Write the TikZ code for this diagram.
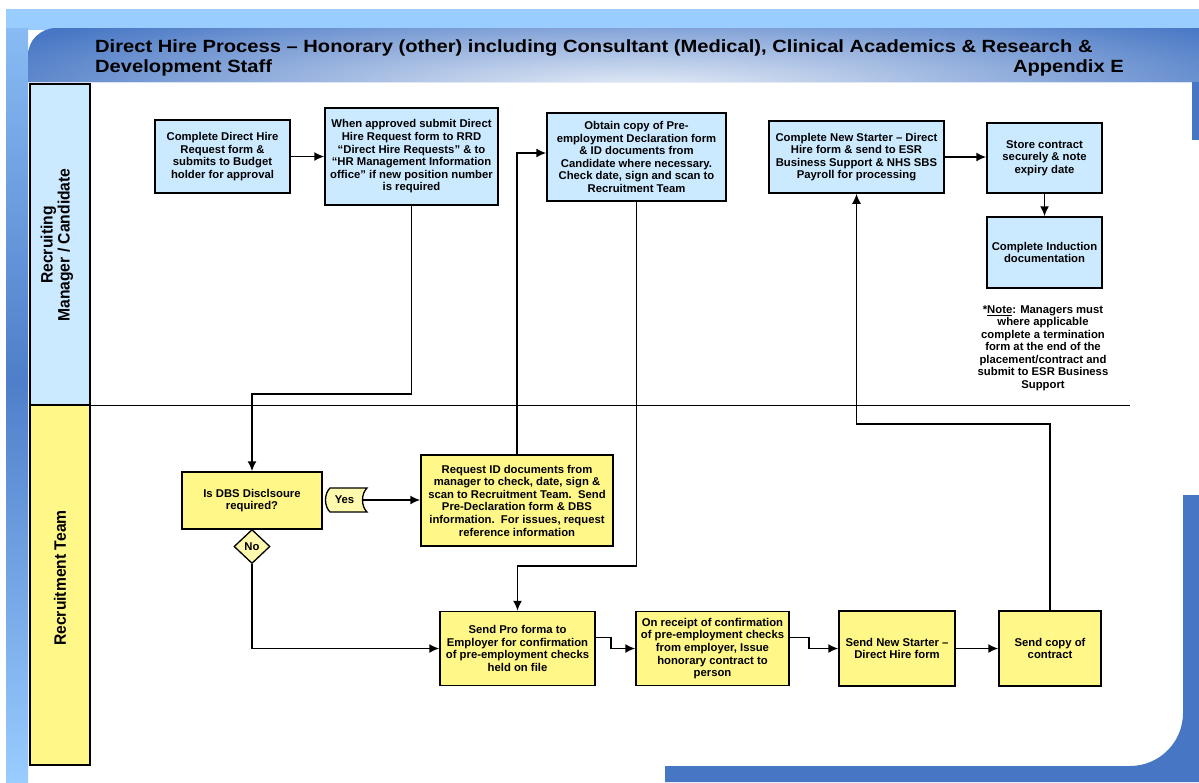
\documentclass[tikz,border=0pt]{standalone}
\usepackage{fontspec}
\setmainfont{Liberation Sans}
\usetikzlibrary{arrows.meta,patterns,shapes.geometric}
\definecolor{boxblue}{RGB}{204,234,255}
\definecolor{boxyellow}{RGB}{255,247,135}
\definecolor{hdrblue}{RGB}{70,118,196}
\definecolor{skyblue}{RGB}{153,204,255}
\begin{document}
\begin{tikzpicture}[x=1pt,y=-1pt,
  procbox/.style={draw=black, line width=1.5pt, align=center, inner sep=0pt,
     font=\bfseries\fontsize{11.3}{12.6}\selectfont},
  bluebox/.style={procbox, fill=boxblue},
  yellowbox/.style={procbox, fill=boxyellow},
  conn/.style={draw=black, line width=1.6pt, -{Latex[length=10pt,width=9pt]}},
  lanelabel/.style={rotate=90, align=center, inner sep=0pt, font=\bfseries\fontsize{16.5}{17}\selectfont},
  titletext/.style={font=\bfseries\fontsize{17}{20}\selectfont, inner sep=0pt},
  hatched/.style={draw=black, line width=1.3pt, preaction={fill=boxyellow}, pattern=north east lines, pattern color=white}
]
\useasboundingbox (0,0) rectangle (1199,782);
% ---------- background ----------
\fill[white] (0,0) rectangle (1199,782);
\fill[skyblue] (6,9) rectangle (1199,30);
\shade[top color=skyblue!80!hdrblue, bottom color=hdrblue!90!skyblue] (6,28) rectangle (28,380);
\shade[top color=hdrblue!90!skyblue, bottom color=skyblue] (6,380) rectangle (28,782);
\fill[hdrblue] (28,82) -- (28,56) arc(180:270:28) -- (1199,28) -- (1199,82) -- cycle;
\begin{scope}
  \clip (28,82) -- (28,56) arc(180:270:28) -- (1199,28) -- (1199,82) -- cycle;
  \shade[inner color=white!88!hdrblue, outer color=hdrblue] (640,90) ellipse (720 and 100);
\end{scope}
\fill[hdrblue] (1192,82) rectangle (1199,140);
\fill[hdrblue] (1183,495) -- (1199,495) -- (1199,782) -- (665,782) -- (665,766) -- (1130,766) arc(90:0:53) -- cycle;
% ---------- title ----------
\node[titletext, anchor=base west] (t1) at (95,52) {\scalebox{1.185}[1.04]{Direct Hire Process – Honorary (other) including Consultant (Medical), Clinical Academics \& Research \&}};
\node[titletext, anchor=base west] (t2) at (95,72) {\scalebox{1.185}[1.04]{Development Staff}};
\node[titletext, anchor=base east] (t3) at (1124,72) {\scalebox{1.185}[1.04]{Appendix E}};
% ---------- lanes ----------
\draw[line width=1.5pt, fill=boxblue] (30,84) rectangle (90,405);
\draw[line width=1.5pt, fill=boxyellow] (30,405) rectangle (90,765);
\draw[line width=1pt] (90,405) -- (1130,405);
\node[lanelabel] (lane1) at (57,245) {\scalebox{0.95}[1]{Recruiting}\\\scalebox{0.95}[1]{Manager / Candidate}};
\node[lanelabel] (lane2) at (60,578) {\scalebox{0.95}[1]{Recruitment Team}};
% ---------- upper lane boxes ----------
\node[bluebox, minimum width=135pt, minimum height=73pt] (b1) at (222.5,156.5) {Complete Direct Hire\\Request form \&\\submits to Budget\\holder for approval};
\node[bluebox, minimum width=173pt, minimum height=97pt] (b2) at (411.5,156.5) {When approved submit Direct\\Hire Request form to RRD\\“Direct Hire Requests” \& to\\“HR Management Information\\office” if new position number\\is required};
\node[bluebox, minimum width=179pt, minimum height=88pt] (b3) at (636.5,157) {Obtain copy of Pre-\\employment Declaration form\\\& ID documents from\\Candidate where necessary.\\Check date, sign and scan to\\Recruitment Team};
\node[bluebox, minimum width=175pt, minimum height=72pt] (b4) at (856.5,157) {Complete New Starter – Direct\\Hire form \& send to ESR\\Business Support \& NHS SBS\\Payroll for processing};
\node[bluebox, minimum width=115pt, minimum height=70pt] (b5) at (1044.5,158) {Store contract\\securely \& note\\expiry date};
\node[bluebox, minimum width=115pt, minimum height=71pt] (b6) at (1044.5,252.5) {Complete Induction\\documentation};
\node[align=center, inner sep=0pt, font=\bfseries\fontsize{11.3}{12.5}\selectfont] (note) at (1043,348) {*\underline{Note}: Managers must\\where applicable\\complete a termination\\form at the end of the\\placement/contract and\\submit to ESR Business\\Support};
% ---------- lower lane boxes ----------
\node[yellowbox, minimum width=140pt, minimum height=57pt] (y1) at (252,500.5) {Is DBS Disclsoure\\required?};
\draw[hatched] (330,488) -- (367,488) .. controls (361,494) and (361,506) .. (367,512) -- (330,512) .. controls (324,506) and (324,494) .. (330,488) -- cycle;
\node[inner sep=0pt, minimum width=35pt, minimum height=24pt, font=\bfseries\fontsize{11.3}{12}\selectfont] (yes) at (344.5,500) {Yes};
\node[hatched, diamond, minimum width=36pt, minimum height=34pt, inner sep=0pt, font=\bfseries\fontsize{11.3}{12}\selectfont] (no) at (252,546.5) {No};
\node[yellowbox, minimum width=192pt, minimum height=91pt] (y2) at (517,500.5) {Request ID documents from\\manager to check, date, sign \&\\scan to Recruitment Team.\ \ Send\\Pre-Declaration form \& DBS\\information.\ \ For issues, request\\reference information};
\node[yellowbox, minimum width=155pt, minimum height=74pt] (y3) at (517.5,648.5) {Send Pro forma to\\Employer for confirmation\\of pre-employment checks\\held on file};
\node[yellowbox, minimum width=153pt, minimum height=74pt] (y4) at (712.5,648.5) {On receipt of confirmation\\of pre-employment checks\\from employer, Issue\\honorary contract to\\person};
\node[yellowbox, minimum width=116pt, minimum height=75pt] (y5) at (897,648.5) {Send New Starter –\\Direct Hire form};
\node[yellowbox, minimum width=102pt, minimum height=75pt] (y6) at (1050,648.5) {Send copy of\\contract};
% ---------- connectors ----------
\draw[conn] (b1.east) -- (b2.west);
\draw[conn] (b2.south) -- ++(0,188) -| (y1.north);
\draw[conn] (yes.east) -- (yes.east -| y2.west);
\draw[conn] (y2.north) |- ([yshift=4pt]b3.west);
\draw[conn] (no.south) |- (y3.west);
\draw[conn] (b3.south) -- ++(0,364) -| (y3.north);
\draw[conn] ([yshift=11pt]y3.east) -- ++(15,0) |- (y4.west);
\draw[conn] ([yshift=11pt]y4.east) -- ++(19,0) |- (y5.west);
\draw[conn] (y5.east) -- (y6.west);
\draw[conn] (y6.north) -- ++(0,-186) -| (b4.south);
\draw[conn] (b4.east) -- (b4.east -| b5.west);
\draw[conn] (b5.south) -- (b6.north);
\end{tikzpicture}
\end{document}
